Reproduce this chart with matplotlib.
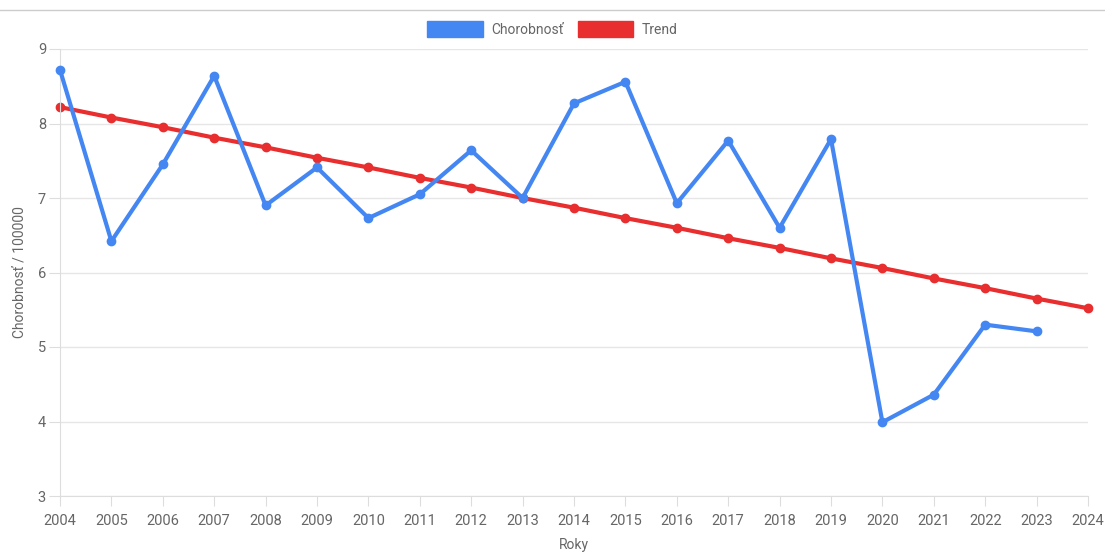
import matplotlib.pyplot as plt
from matplotlib.patches import Patch
from matplotlib.lines import Line2D

years = list(range(2004, 2025))
chorobnost_years = list(range(2004, 2024))
chorobnost = [8.72, 6.42, 7.45, 8.64, 6.90, 7.41, 6.73, 7.05, 7.64, 7.00,
              8.27, 8.56, 6.93, 7.77, 6.60, 7.79, 3.99, 4.36, 5.30, 5.21]
trend = [8.22, 8.08, 7.95, 7.81, 7.68, 7.54, 7.41, 7.27, 7.14, 7.00, 6.87,
         6.73, 6.60, 6.46, 6.33, 6.19, 6.06, 5.92, 5.79, 5.65, 5.52]

blue = "#4487F2"
red = "#E82E2E"
grey_text = "#666666"

plt.rcParams['font.family'] = ['Roboto', 'DejaVu Sans']

fig = plt.figure(figsize=(11.05, 5.52), dpi=100)
ax = fig.add_axes([60 / 1105, 56 / 552, 1028 / 1105, 447 / 552])

ax.plot(chorobnost_years, chorobnost, color=blue, lw=3, marker='o', ms=6, zorder=3, clip_on=False)
ax.plot(years, trend, color=red, lw=3, marker='o', ms=6, zorder=2, clip_on=False)

ax.set_xlim(2004, 2024)
ax.set_ylim(3, 9)
ax.set_xticks(years)
ax.set_yticks(range(3, 10))
ax.tick_params(axis='both', colors='#dddddd', labelcolor=grey_text, labelsize=10.5, length=7)
ax.tick_params(axis='x', pad=6)
ax.tick_params(axis='y', length=8, pad=2)
ax.grid(axis='y', color='#e6e6e6', lw=1)
ax.set_axisbelow(True)
for side in ['top', 'right']:
    ax.spines[side].set_visible(False)
ax.spines['left'].set_color('#dddddd')
ax.spines['bottom'].set_color('#dddddd')
ax.set_xlabel("Roky", color=grey_text, fontsize=10, labelpad=7)
ax.set_ylabel("Chorobnosť / 100000", color=grey_text, fontsize=10, labelpad=8)

fig.add_artist(Line2D([0, 1], [1 - 10 / 552, 1 - 10 / 552], color='#cccccc', lw=1))

handles = [Patch(facecolor=blue, edgecolor=blue), Patch(facecolor=red, edgecolor=red)]
fig.legend(handles, ["Chorobnosť", "Trend"], loc='center', bbox_to_anchor=(0.5, 1 - 29 / 552),
           ncol=2, frameon=False, fontsize=10, handlelength=4, handleheight=1.3,
           columnspacing=1.0, handletextpad=0.6, labelcolor=grey_text)

fig.savefig("out.png", dpi=100, facecolor='white')
